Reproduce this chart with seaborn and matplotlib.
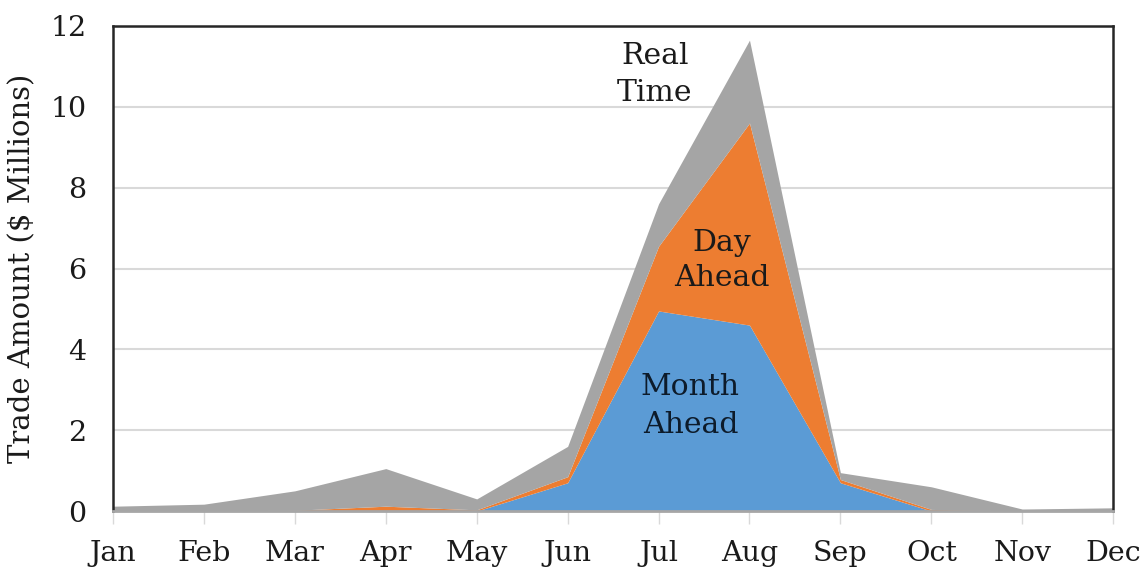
import matplotlib
matplotlib.use("Agg")
import matplotlib.pyplot as plt
import seaborn as sns
import pandas as pd

months = ["Jan", "Feb", "Mar", "Apr", "May", "Jun",
          "Jul", "Aug", "Sep", "Oct", "Nov", "Dec"]
month_ahead = [0, 0, 0, 0, 0, 0.7, 4.95, 4.6, 0.7, 0, 0, 0]
day_ahead = [0, 0, 0.02, 0.12, 0.03, 0.15, 1.6, 5.0, 0.08, 0.04, 0, 0]
real_time = [0.12, 0.17, 0.48, 0.93, 0.27, 0.75, 1.05, 2.05, 0.17, 0.56, 0.05, 0.08]

df = pd.DataFrame({"Month": months, "Month Ahead": month_ahead,
                   "Day Ahead": day_ahead, "Real Time": real_time})

sns.set_theme(style="white")
plt.rcParams["font.family"] = ["DejaVu Serif"]

fig = plt.figure(figsize=(11.43, 5.71), dpi=100)
ax = fig.add_axes([0.0989, 0.105, 0.875, 0.8495])

x = range(len(df))
colors = ["#5B9BD5", "#ED7D31", "#A5A5A5"]
ax.stackplot(x, df["Month Ahead"], df["Day Ahead"], df["Real Time"],
             colors=colors, linewidth=0, zorder=2)

ax.set_xlim(0, len(df) - 1)
ax.set_ylim(0, 12)
ax.set_yticks(range(0, 13, 2))
ax.set_xticks(list(x))
ax.set_xticklabels(df["Month"])
ax.yaxis.grid(True, color="#D9D9D9", linewidth=1.5, zorder=0)
ax.set_axisbelow(True)

for side in ["left", "top", "right"]:
    ax.spines[side].set_color("#262626")
    ax.spines[side].set_linewidth(1.8)
ax.spines["bottom"].set_color("#A6A6A6")
ax.spines["bottom"].set_linewidth(2)

ax.tick_params(axis="x", bottom=True, length=9, width=1, color="#D9D9D9",
               pad=12, labelsize=20.5, labelcolor="#1a1a1a")
ax.tick_params(axis="y", left=False, pad=13, labelsize=20.5, labelcolor="#1a1a1a")
ax.set_ylabel("Trade Amount ($ Millions)", fontsize=21, color="#1a1a1a", labelpad=10)
ax.set_xlabel("")

ax.text(6.35, 2.6, "Month\nAhead", ha="center", va="center", fontsize=21.5,
        color="#0d1b2a", linespacing=1.45, zorder=3)
ax.text(6.7, 6.2, "Day\nAhead", ha="center", va="center", fontsize=21.5,
        color="#1a1a1a", linespacing=1.35, zorder=3)
ax.text(5.96, 10.8, "Real\nTime", ha="center", va="center", fontsize=21.5,
        color="#1a1a1a", linespacing=1.4, zorder=3)

fig.savefig("out.png", dpi=100)
